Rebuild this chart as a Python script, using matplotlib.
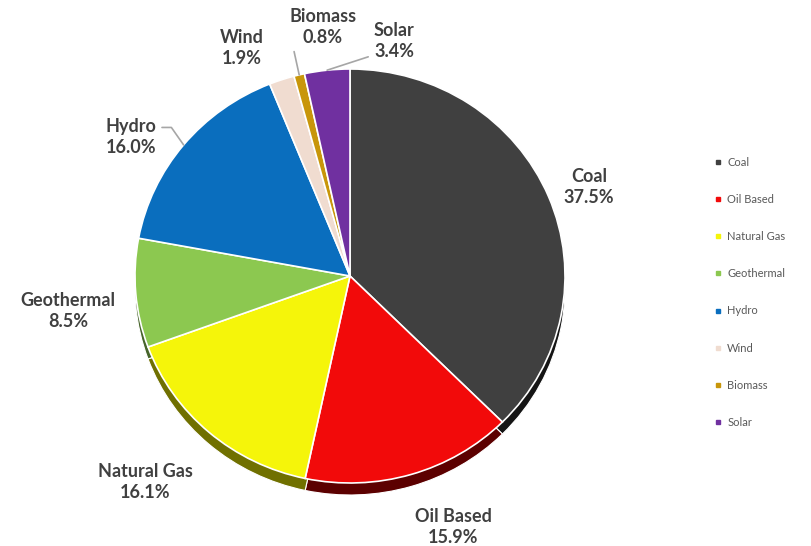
import numpy as np
import matplotlib
matplotlib.use("Agg")
import matplotlib.pyplot as plt
from matplotlib.lines import Line2D

plt.rcParams['font.family'] = ['Lato', 'DejaVu Sans']

# data
sources = ['Coal', 'Oil Based', 'Natural Gas', 'Geothermal', 'Hydro', 'Wind', 'Biomass', 'Solar']
shares = [37.5, 15.9, 16.1, 8.5, 16.0, 1.9, 0.8, 3.4]
colors = ['#404040', '#f20a0a', '#f5f50a', '#8cc850', '#0a6ebe', '#f0dcd0', '#c8960a', '#7030a0']
dark_colors = ['#151515', '#5c0000', '#707000', '#46642a', '#05375f', '#786e68', '#644b05', '#381850']

# label placement in image pixels (x, y of text centre)
label_pos = [(589, 187), (453, 527), (145, 482), (68, 311), (131, 137), (242, 48), (323, 27), (394, 41)]
# relpos on the text box + connection style for leader lines
leader = {'Hydro': ((1.0, 0.75), "angle,angleA=0,angleB=125,rad=0"),
          'Biomass': ((0.02, 0.25), "arc3,rad=0"),
          'Solar': ((0.0, 0.2), "angle,angleA=0,angleB=18,rad=0")}

W, H = 811, 546
k = 215 / 207  # squash vertically a little (tilted look)
FS = 13


def px(x, y):
    return x, (H - y) * k


fig = plt.figure(figsize=(W / 100, H / 100), dpi=100)
ax = fig.add_axes([0, 0, 1, 1])

cx, cy = px(350, 276)
R = 215

# extruded side
ax.pie(shares, colors=dark_colors, startangle=90, counterclock=False,
       center=(cx, cy - 12 * k), radius=R, frame=True,
       wedgeprops=dict(edgecolor='white', linewidth=0.8))
wedges, _ = ax.pie(shares, colors=colors, startangle=90, counterclock=False,
                   center=(cx, cy), radius=R, frame=True,
                   wedgeprops=dict(edgecolor='white', linewidth=1.2))
ax.set_xlim(0, W)
ax.set_ylim(0, H * k)
ax.set_aspect('auto')
ax.axis('off')

for w, name, val, pos in zip(wedges, sources, shares, label_pos):
    tx, ty = px(*pos)
    txt = f"{name}\n{val:.1f}%"
    if name in leader:
        rp, cs = leader[name]
        mid = np.deg2rad((w.theta1 + w.theta2) / 2)
        ex, ey = cx + R * np.cos(mid), cy + R * np.sin(mid)
        ax.annotate(txt, xy=(ex, ey), xytext=(tx, ty), ha='center', va='center',
                    fontsize=FS, fontweight='bold', color='#404040', linespacing=1.3,
                    arrowprops=dict(arrowstyle='-', color='#a6a6a6', lw=1.2,
                                    relpos=rp, shrinkA=2, shrinkB=0,
                                    connectionstyle=cs))
    else:
        ax.text(tx, ty, txt, ha='center', va='center', fontsize=FS,
                fontweight='bold', color='#404040', linespacing=1.3)

handles = [Line2D([], [], marker='s', linestyle='', markersize=3.5,
                  markerfacecolor=c, markeredgecolor=c) for c in colors]
fig.legend(handles, sources, loc='upper left', bbox_to_anchor=(705 / W, 1 - 147 / H),
           frameon=False, fontsize=8, labelcolor='#595959', labelspacing=2.35,
           handlelength=0.6, handletextpad=0.5)

fig.savefig('out.png', dpi=100)
